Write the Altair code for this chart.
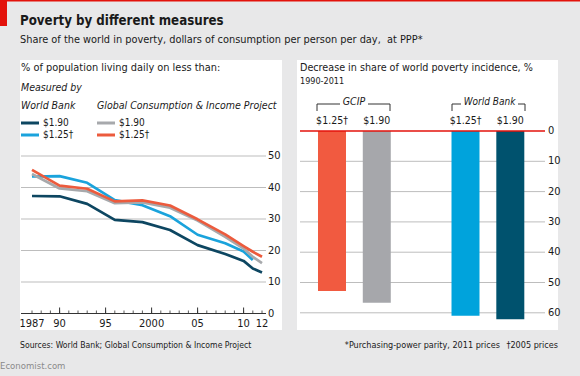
import altair as alt
import pandas as pd

FONT = "DejaVu Sans Condensed, Liberation Sans Narrow, Roboto, sans-serif"

# ---------------- data ----------------
years = [1987, 1990, 1993, 1996, 1999, 2002, 2005, 2008, 2010, 2011, 2012]
wb_190 = [37.3, 37.2, 34.8, 29.7, 29.0, 26.5, 21.7, 18.9, 16.7, 14.3, 13.0]
wb_125 = [43.5, 43.6, 41.5, 36.0, 34.4, 30.9, 25.0, 22.3, 19.7, 17.0, None]
gcip_190 = [44.3, 39.7, 38.8, 35.0, 35.3, 33.6, 29.5, 24.3, 20.6, 18.0, 16.0]
gcip_125 = [45.6, 40.6, 39.6, 35.6, 35.9, 34.3, 29.9, 25.1, 21.4, 19.6, 18.0]

series_names = ["WB $1.90", "WB $1.25", "GCIP $1.90", "GCIP $1.25"]
line_colors = ["#0d4661", "#1aa3dc", "#a7a9ac", "#ec5b3d"]

y_ticks_left = [10, 20, 30, 40, 50]
x_tick_years = [1987, 1990, 1995, 2000, 2005, 2010, 2012]
x_tick_labels = ["1987", "90", "95", "2000", "05", "10", "12"]
minor_years = list(range(1987, 2013))
major_years = [1990, 1995, 2000, 2005, 2010]

bar_groups = ["GCIP", "GCIP", "World Bank", "World Bank"]
bar_measures = ["$1.25\u2020", "$1.90", "$1.25\u2020", "$1.90"]
bar_keys = ["GCIP 1.25", "GCIP 1.90", "WB 1.25", "WB 1.90"]
bar_values = [52.8, 56.7, 61.0, 62.1]
bar_colors = ["#f15a40", "#a6a7ab", "#00a3dc", "#00526e"]
y_ticks_right = [10, 20, 30, 40, 50, 60]

# ---------------- frames ----------------
rows = []
for name, vals in zip(series_names, [wb_190, wb_125, gcip_190, gcip_125]):
    for yr, v in zip(years, vals):
        if v is not None:
            rows.append({"series": name, "year": yr, "value": v})
lines_df = pd.DataFrame(rows)

bars_df = pd.DataFrame({"group": bar_groups, "measure": bar_measures,
                        "key": bar_keys, "value": bar_values})

# ---------------- scales ----------------
xL = alt.Scale(domain=[1987, 2012], range=[32, 262], nice=False, zero=False)
yL = alt.Scale(domain=[0, 50], range=[313.5, 156], nice=False, zero=False)
yR = alt.Scale(domain=[0, 60], range=[131, 312.8], nice=False)
xR = alt.Scale(domain=["GCIP", "World Bank"], range=[309.6, 532.7],
               paddingInner=0.329, paddingOuter=0)
xOffR = alt.Scale(domain=["$1.25\u2020", "$1.90"], paddingInner=0.375, paddingOuter=0.1875)

one = pd.DataFrame({"a": [0]})
INK = "#1a1a1a"


def txt(s, x, y, size=11, weight="normal", style="normal", color=INK, align="left"):
    return alt.Chart(pd.DataFrame({"t": [s]})).mark_text(
        align=align, baseline="middle", fontSize=size, fontWeight=weight,
        fontStyle=style, color=color, font=FONT
    ).encode(x=alt.value(x), y=alt.value(y), text="t:N")


def box(x1, x2, y1, y2, color):
    return alt.Chart(one).mark_rect(color=color).encode(
        x=alt.value(x1), x2=alt.value(x2), y=alt.value(y1), y2=alt.value(y2))


def hline(x1, x2, y, color, w=1):
    return alt.Chart(one).mark_rule(color=color, strokeWidth=w).encode(
        x=alt.value(x1), x2=alt.value(x2), y=alt.value(y))


def vline(x, y1, y2, color, w=1):
    return alt.Chart(one).mark_rule(color=color, strokeWidth=w).encode(
        x=alt.value(x), y=alt.value(y1), y2=alt.value(y2))


layers = []
# frame / decoration
layers.append(box(0, 580, 0, 1.5, "#e3120b"))
layers.append(box(0, 7, 0, 26, "#e3120b"))
layers.append(box(20, 282, 60, 330, "#ffffff"))
layers.append(box(297, 558, 60, 330, "#ffffff"))

# titles
layers.append(txt("Poverty by different measures", 20, 21, size=13.2, weight="bold"))
layers.append(txt("Share of the world in poverty, dollars of consumption per person per day,\u00a0 at PPP*",
                  20, 40, size=10.9))

# ---------- left panel ----------
layers.append(txt("% of population living daily on less than:", 21, 68, size=10.9))
layers.append(txt("Measured by", 21, 88, size=10.5, style="italic"))
layers.append(txt("World Bank", 21, 105.5, size=10.5, style="italic"))
layers.append(txt("Global Consumption & Income Project", 97, 105.5, size=10.5, style="italic"))
leg = [(21, 39, 123, 0, 43), (21, 39, 135, 1, 43), (97, 115, 123, 2, 119), (97, 115, 135, 3, 119)]
leg_labels = ["$1.90", "$1.25\u2020", "$1.90", "$1.25\u2020"]
for (x1, x2, yy, i, tx), lab in zip(leg, leg_labels):
    layers.append(hline(x1, x2, yy, line_colors[i], w=3))
    layers.append(txt(lab, tx, yy, size=10))

grid_left = alt.Chart(pd.DataFrame({"v": y_ticks_left})).mark_rule(
    color="#bdbdbd", strokeWidth=1).encode(
    y=alt.Y("v:Q", scale=yL, axis=None), x=alt.value(21), x2=alt.value(266))
ylab_left = alt.Chart(pd.DataFrame({"v": [0] + y_ticks_left})).mark_text(
    align="left", baseline="middle", fontSize=11, color=INK, font=FONT).encode(
    y=alt.Y("v:Q", scale=yL, axis=None), x=alt.value(268), text="v:Q")
base_left = alt.Chart(pd.DataFrame({"v": [0]})).mark_rule(color="#333333", strokeWidth=1).encode(
    y=alt.Y("v:Q", scale=yL, axis=None), x=alt.value(21), x2=alt.value(266))
minor = alt.Chart(pd.DataFrame({"yr": minor_years})).mark_rule(color="#333333", strokeWidth=0.8).encode(
    x=alt.X("yr:Q", scale=xL, axis=None), y=alt.value(310.5), y2=alt.value(313.5))
major = alt.Chart(pd.DataFrame({"yr": major_years})).mark_rule(color="#333333", strokeWidth=1).encode(
    x=alt.X("yr:Q", scale=xL, axis=None), y=alt.value(307.5), y2=alt.value(313.5))
xlab_left = alt.Chart(pd.DataFrame({"yr": x_tick_years, "lab": x_tick_labels})).mark_text(
    align="center", baseline="middle", fontSize=11, color=INK, font=FONT).encode(
    x=alt.X("yr:Q", scale=xL, axis=None), y=alt.value(324), text="lab:N")

line_layers = []
for name in series_names:
    line_layers.append(alt.Chart(lines_df).transform_filter(
        alt.datum.series == name).mark_line(strokeWidth=2.7, strokeCap="butt", strokeJoin="round").encode(
        x=alt.X("year:Q", scale=xL, axis=None),
        y=alt.Y("value:Q", scale=yL, axis=None),
        color=alt.Color("series:N", scale=alt.Scale(domain=series_names, range=line_colors), legend=None)))
left = alt.layer(grid_left, base_left, minor, major, xlab_left, ylab_left, *line_layers)

# ---------- right panel ----------
layers.append(txt("Decrease in share of world poverty incidence, %", 300, 68, size=10.7))
layers.append(txt("1990-2011", 300, 81, size=9))

grid_right = alt.Chart(pd.DataFrame({"v": y_ticks_right})).mark_rule(
    color="#bdbdbd", strokeWidth=1).encode(
    y=alt.Y("v:Q", scale=yR, axis=None), x=alt.value(300), x2=alt.value(545))
ylab_right = alt.Chart(pd.DataFrame({"v": [0] + y_ticks_right})).mark_text(
    align="left", baseline="middle", fontSize=11, color=INK, font=FONT).encode(
    y=alt.Y("v:Q", scale=yR, axis=None), x=alt.value(548), text="v:Q")
bars = alt.Chart(bars_df).mark_bar().encode(
    x=alt.X("group:N", scale=xR, axis=None),
    xOffset=alt.XOffset("measure:N", scale=xOffR),
    y=alt.Y("value:Q", scale=yR, axis=None),
    color=alt.Color("key:N", scale=alt.Scale(domain=bar_keys, range=bar_colors), legend=None))
bar_labels = alt.Chart(bars_df).mark_text(
    align="center", baseline="middle", fontSize=10.5, color=INK, font=FONT).encode(
    x=alt.X("group:N", scale=xR, axis=None),
    xOffset=alt.XOffset("measure:N", scale=xOffR),
    y=alt.value(121), text="measure:N")
zero_right = alt.Chart(pd.DataFrame({"v": [0]})).mark_rule(color="#e3120b", strokeWidth=1.3).encode(
    y=alt.Y("v:Q", scale=yR, axis=None), x=alt.value(300), x2=alt.value(545))
right = alt.layer(grid_right, bars, zero_right, bar_labels, ylab_right)

# group brackets
layers.append(txt("GCIP", 354, 102, size=10.5, style="italic", align="center"))
layers.append(txt("World Bank", 489.5, 102, size=10, style="italic", align="center"))
for (a, b) in [(317, 340), (368, 390), (452, 461), (518, 525)]:
    layers.append(hline(a, b, 104, "#333333"))
for xx in [317, 390, 452, 525]:
    layers.append(vline(xx, 104, 111, "#333333"))

# footer
layers.append(txt("Sources: World Bank; Global Consumption & Income Project", 20, 345, size=8.6))
layers.append(txt("*Purchasing-power parity, 2011 prices", 500, 345, size=9, align="right"))
layers.append(txt("\u20202005 prices", 558, 345, size=9, align="right"))
layers.append(txt("Economist.com", 0, 366, size=9.5, color="#8a8a8a"))

chart = alt.layer(*layers[:4], left, right, *layers[4:]).resolve_scale(
    x="independent", y="independent", color="independent", xOffset="independent"
).properties(
    width=580, height=376, autosize=alt.AutoSizeParams(type="none"), padding=0,
    background="#e8e8e9"
).configure_view(stroke=None)

chart.save("out.html", embed_options={"renderer": "svg", "actions": False})
